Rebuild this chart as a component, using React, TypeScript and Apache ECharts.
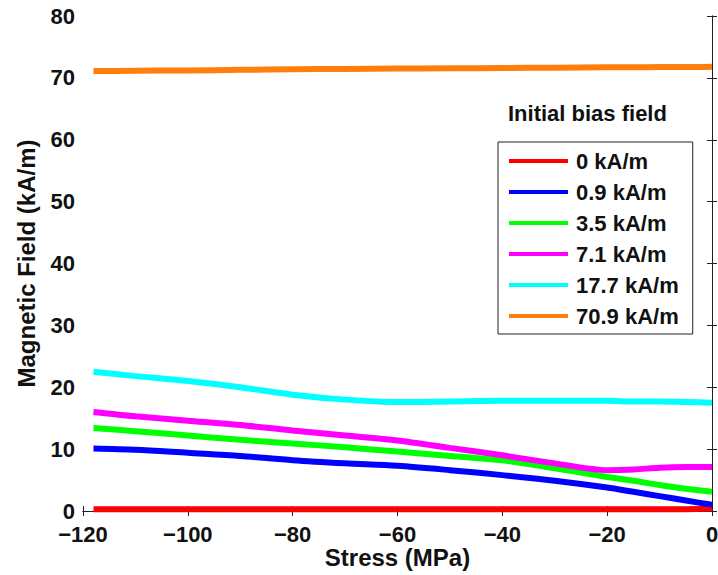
import React, { useEffect, useRef } from "react";
import * as echarts from "echarts";

const stress = [-118, -110, -100, -90, -80, -70, -60, -50, -40, -30, -20, -15, -10, -5, 0];
const seriesNames = ["0 kA/m", "0.9 kA/m", "3.5 kA/m", "7.1 kA/m", "17.7 kA/m", "70.9 kA/m"];
const seriesColors = ["#ff0000", "#0000ff", "#00ff00", "#ff00ff", "#00ffff", "#ff7f0e"];
const field0 = [0.3, 0.3, 0.3, 0.3, 0.3, 0.3, 0.3, 0.3, 0.3, 0.3, 0.3, 0.3, 0.3, 0.3, 0.4];
const field09 = [10.1, 9.9, 9.4, 8.9, 8.2, 7.7, 7.3, 6.6, 5.8, 4.9, 3.8, 3.1, 2.4, 1.7, 1.0];
const field35 = [13.4, 12.9, 12.2, 11.5, 10.9, 10.3, 9.6, 8.9, 8.2, 6.9, 5.5, 4.9, 4.2, 3.6, 3.1];
const field71 = [16.0, 15.3, 14.6, 13.9, 13.0, 12.2, 11.4, 10.2, 9.0, 7.7, 6.6, 6.7, 7.0, 7.1, 7.1];
const field177 = [22.5, 21.8, 21.0, 20.0, 18.8, 18.0, 17.6, 17.7, 17.8, 17.8, 17.8, 17.7, 17.7, 17.6, 17.5];
const field709 = [71.1, 71.15, 71.2, 71.3, 71.4, 71.45, 71.5, 71.55, 71.6, 71.65, 71.7, 71.7, 71.75, 71.75, 71.8];
const allFields = [field0, field09, field35, field71, field177, field709];

const xTicks = { min: -120, max: 0, interval: 20 };
const yTicks = { min: 0, max: 80, interval: 10 };

const FONT = "'Liberation Sans', Arial, Helvetica, sans-serif";

export default function App() {
  const ref = useRef<HTMLDivElement>(null);
  useEffect(() => {
    if (!ref.current) return;
    const chart = echarts.init(ref.current, null, { renderer: "svg" });
    const axisLine = { show: true, lineStyle: { color: "#222", width: 1 } };
    const tick = { show: true, inside: true, length: 5, lineStyle: { color: "#222", width: 1 } };
    const labelStyle = { color: "#111", fontSize: 22, fontWeight: "bold" as const, fontFamily: FONT };
    chart.setOption({
      animation: false,
      backgroundColor: "#ffffff",
      textStyle: { fontFamily: FONT },
      grid: { left: 83, right: 6, top: 16, bottom: 64, containLabel: false, outerBoundsMode: "none" },
      graphic: [
        {
          type: "text",
          left: 508,
          top: 102,
          style: { text: "Initial bias field", font: `bold 22px ${FONT}`, fill: "#111" },
        },
      ],
      legend: {
        orient: "vertical",
        left: 498,
        top: 142,
        padding: [8, 14, 7, 11],
        itemGap: 9,
        itemWidth: 59,
        itemHeight: 4,
        icon: "rect",
        borderColor: "#222",
        borderWidth: 1,
        backgroundColor: "#fff",
        textStyle: { fontSize: 22, fontWeight: "bold", color: "#111", fontFamily: FONT, lineHeight: 22, padding: [0, 0, 0, 3] },
        data: seriesNames,
      },
      xAxis: [
        {
          type: "value",
          position: "bottom",
          ...xTicks,
          axisLine,
          axisTick: tick,
          splitLine: { show: false },
          axisLabel: {
            ...labelStyle,
            margin: 12,
            lineHeight: 22,
            formatter: (v: number) => String(v).replace("-", "\u2212"),
          },
          name: "Stress (MPa)",
          nameLocation: "middle",
          nameGap: 34,
          nameMoveOverlap: false,
          nameTextStyle: { fontSize: 24, fontWeight: "bold", color: "#111", fontFamily: FONT },
        },
        {
          type: "value",
          position: "top",
          ...xTicks,
          axisLine,
          axisTick: tick,
          splitLine: { show: false },
          axisLabel: { show: false },
        },
      ],
      yAxis: [
        {
          type: "value",
          position: "left",
          ...yTicks,
          axisLine,
          axisTick: tick,
          splitLine: { show: false },
          axisLabel: { ...labelStyle, margin: 8, lineHeight: 20 },
          name: "Magnetic Field (kA/m)",
          nameLocation: "middle",
          nameGap: 45,
          nameMoveOverlap: false,
          nameTextStyle: { fontSize: 24, fontWeight: "bold", color: "#111", fontFamily: FONT },
        },
        {
          type: "value",
          position: "right",
          ...yTicks,
          axisLine,
          axisTick: tick,
          splitLine: { show: false },
          axisLabel: { show: false },
        },
      ],
      series: seriesNames.map((name, i) => ({
        name,
        type: "line",
        xAxisIndex: 0,
        yAxisIndex: 0,
        data: stress.map((s, j) => [s, allFields[i][j]]),
        showSymbol: false,
        symbol: "none",
        smooth: 0.3,
        color: seriesColors[i],
        lineStyle: { color: seriesColors[i], width: 6 },
      })),
    });
    return () => chart.dispose();
  }, []);
  return <div ref={ref} style={{ position: "fixed", left: 0, top: 0, width: 718, height: 575 }} />;
}
